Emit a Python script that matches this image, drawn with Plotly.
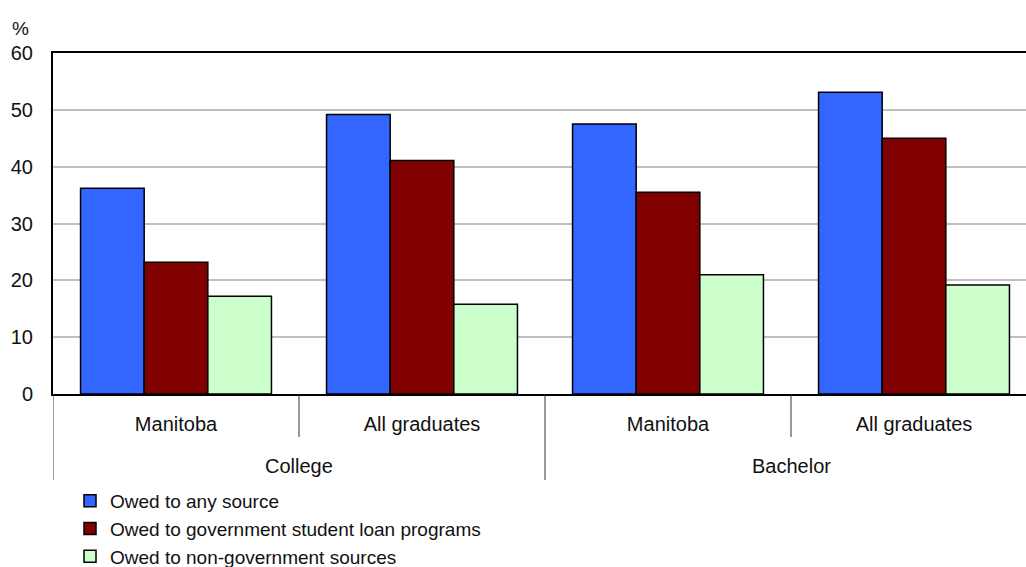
import plotly.graph_objects as go

# Data
groups = ["College", "Bachelor"]
subcats = ["Manitoba", "All graduates", "Manitoba", "All graduates"]
series_names = [
    "Owed to any source",
    "Owed to government student loan programs",
    "Owed to non-government sources",
]
any_source = [36.2, 49.2, 47.5, 53.1]
government = [23.2, 41.1, 35.5, 45.0]
non_government = [17.2, 15.8, 21.0, 19.2]
y_ticks = [0, 10, 20, 30, 40, 50, 60]

colors = ["#3366FF", "#800000", "#CCFFCC"]
FONT = "Liberation Sans, Arial, sans-serif"

W, H = 1026, 567
ml, mr, mt, mb = 53, 0, 53, 173
plot_w = W - ml - mr
plot_h = H - mt - mb
unit_px = 246.0
xmax = -0.5 + plot_w / unit_px

xpos = list(range(len(subcats)))

fig = go.Figure()
for name, vals, col in zip(series_names, [any_source, government, non_government], colors):
    fig.add_trace(go.Bar(
        x=xpos, y=vals, name=name,
        marker=dict(color=col, line=dict(color="#000000", width=1.5)),
    ))

def py(px):
    # pixel y (from top) -> paper y
    return (H - mb - px) / plot_h

def pxx(px):
    return (px - ml) / plot_w

shapes = []
# dividers: long at group boundaries, short between subcategories
for xv, long in [(-0.5, True), (0.5, False), (1.5, True), (2.5, False)]:
    shapes.append(dict(type="line", xref="x", yref="paper",
                       x0=xv, x1=xv, y0=0, y1=py(480 if long else 437),
                       line=dict(color="#333333", width=1)))

annotations = []
for i, g in enumerate(groups):
    annotations.append(dict(text=g, xref="x", yref="paper", x=2 * i + 0.5, y=py(466),
                            showarrow=False, xanchor="center", yanchor="middle",
                            font=dict(family=FONT, size=20, color="#111111")))
annotations.append(dict(text="%", xref="paper", yref="paper", x=pxx(20), y=py(28),
                        showarrow=False, xanchor="center", yanchor="middle",
                        font=dict(family=FONT, size=19, color="#111111")))

fig.update_layout(
    width=W, height=H,
    margin=dict(l=ml, r=mr, t=mt, b=mb, pad=0, autoexpand=False),
    paper_bgcolor="white", plot_bgcolor="white",
    barmode="group", bargap=0.224, bargroupgap=0,
    font=dict(family=FONT, size=19, color="#111111"),
    showlegend=True,
    legend=dict(x=pxx(70), y=py(482), xanchor="left", yanchor="top",
                orientation="v", traceorder="normal",
                font=dict(family=FONT, size=19, color="#111111"),
                bgcolor="rgba(0,0,0,0)", itemclick=False),
    shapes=shapes,
    annotations=annotations,
    xaxis=dict(
        range=[-0.5, xmax], tickmode="array", tickvals=xpos, ticktext=subcats,
        showgrid=False, zeroline=False,
        showline=True, linecolor="#000000", linewidth=2, mirror=True,
        ticks="", ticklabelstandoff=11,
        tickfont=dict(family=FONT, size=20, color="#111111"),
    ),
    yaxis=dict(
        range=[0, 60], tickmode="array", tickvals=y_ticks,
        showgrid=True, gridcolor="#C0C0C0", gridwidth=1.5,
        zeroline=False, showline=True, linecolor="#000000", linewidth=2,
        ticks="", ticklabelstandoff=14,
        tickfont=dict(family=FONT, size=20, color="#111111"),
    ),
)

fig.write_html("out.html")
